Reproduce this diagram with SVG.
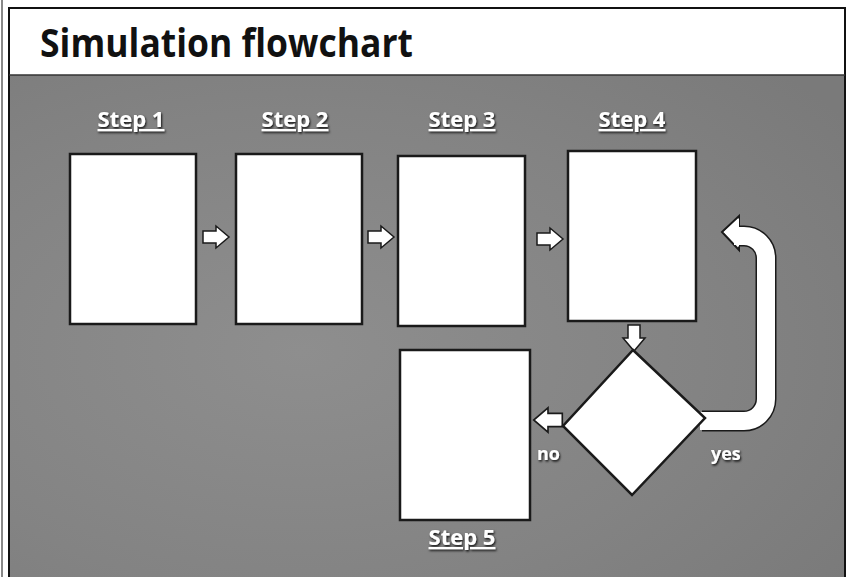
<svg xmlns="http://www.w3.org/2000/svg" width="849" height="577" viewBox="0 0 849 577">
<defs>
<style>
.box{fill:#ffffff;stroke:#1a1a1a;stroke-width:2.5}
.step{font-family:"Open Sans","Liberation Sans",sans-serif;font-weight:700;font-size:22px;fill:#ffffff;text-decoration:underline;filter:url(#sh)}
.lbl{font-family:"Open Sans","Liberation Sans",sans-serif;font-weight:700;font-size:18px;fill:#ffffff;filter:url(#sh)}
.arr{fill:#ffffff;stroke:#1a1a1a;stroke-width:1.5}
</style>
<filter id="sh" x="-20%" y="-20%" width="140%" height="160%">
<feDropShadow dx="1" dy="1.5" stdDeviation="0.8" flood-color="#000" flood-opacity="0.9"/>
</filter>
<radialGradient id="bg" cx="0.35" cy="0.55" r="0.8">
<stop offset="0" stop-color="#8e8e8e"/>
<stop offset="0.6" stop-color="#838383"/>
<stop offset="1" stop-color="#7a7a7a"/>
</radialGradient>
<polygon id="ra" points="-13,-6 0,-6 0,-11 13,0 0,11 0,6 -13,6"/>
</defs>
<rect x="0" y="0" width="849" height="577" fill="#ffffff"/>
<rect x="9" y="75" width="836" height="502" fill="url(#bg)"/>
<rect x="9" y="8" width="836" height="67" fill="#ffffff"/>
<rect x="9" y="8" width="836" height="575" fill="none" stroke="#111" stroke-width="2"/>
<line x1="9" y1="75" x2="845" y2="75" stroke="#333" stroke-width="1.5"/>
<line x1="2" y1="0" x2="2" y2="577" stroke="#111" stroke-width="1"/>
<text x="40" y="57" font-family="'Open Sans','Liberation Sans',sans-serif" font-weight="700" font-size="40" fill="#111" textLength="373" lengthAdjust="spacingAndGlyphs">Simulation flowchart</text>

<g id="connectors">
<use href="#ra" class="arr" transform="translate(216,237)"/>
<use href="#ra" class="arr" transform="translate(381,237)"/>
<use href="#ra" class="arr" transform="translate(550,239)"/>
<use href="#ra" class="arr" transform="translate(634,338) rotate(90)"/>
<use href="#ra" class="arr" transform="translate(548,420) rotate(180) scale(1.1)"/>
<path d="M702 421 H744 A22 22 0 0 0 766 399 V258 A22 22 0 0 0 744 236 H736" fill="none" stroke="#1a1a1a" stroke-width="21"/>
<polygon points="722,232 739,216 739,250" fill="#ffffff" stroke="#1a1a1a" stroke-width="2"/>
<path d="M700 421 H744 A22 22 0 0 0 766 399 V258 A22 22 0 0 0 744 236 H734" fill="none" stroke="#ffffff" stroke-width="18"/>
<polygon points="724,232 739,218 739,247" fill="#ffffff"/>
<text class="lbl" x="537" y="460">no</text>
<text class="lbl" x="711" y="460">yes</text>
</g>

<g id="step1">
<rect class="box" x="70" y="154" width="126" height="170"/>
<text class="step" x="131" y="127" text-anchor="middle">Step 1</text>
</g>
<g id="step2">
<rect class="box" x="236" y="154" width="126" height="170"/>
<text class="step" x="295" y="127" text-anchor="middle">Step 2</text>
</g>
<g id="step3">
<rect class="box" x="398" y="156" width="127" height="170"/>
<text class="step" x="462" y="127" text-anchor="middle">Step 3</text>
</g>
<g id="step4">
<rect class="box" x="568" y="151" width="128" height="170"/>
<text class="step" x="632" y="127" text-anchor="middle">Step 4</text>
</g>
<g id="decision">
<polygon class="box" points="633,350 705,418 632,495 563,426"/>
</g>
<g id="step5">
<rect class="box" x="400" y="350" width="130" height="170"/>
<text class="step" x="462" y="545" text-anchor="middle">Step 5</text>
</g>
</svg>
